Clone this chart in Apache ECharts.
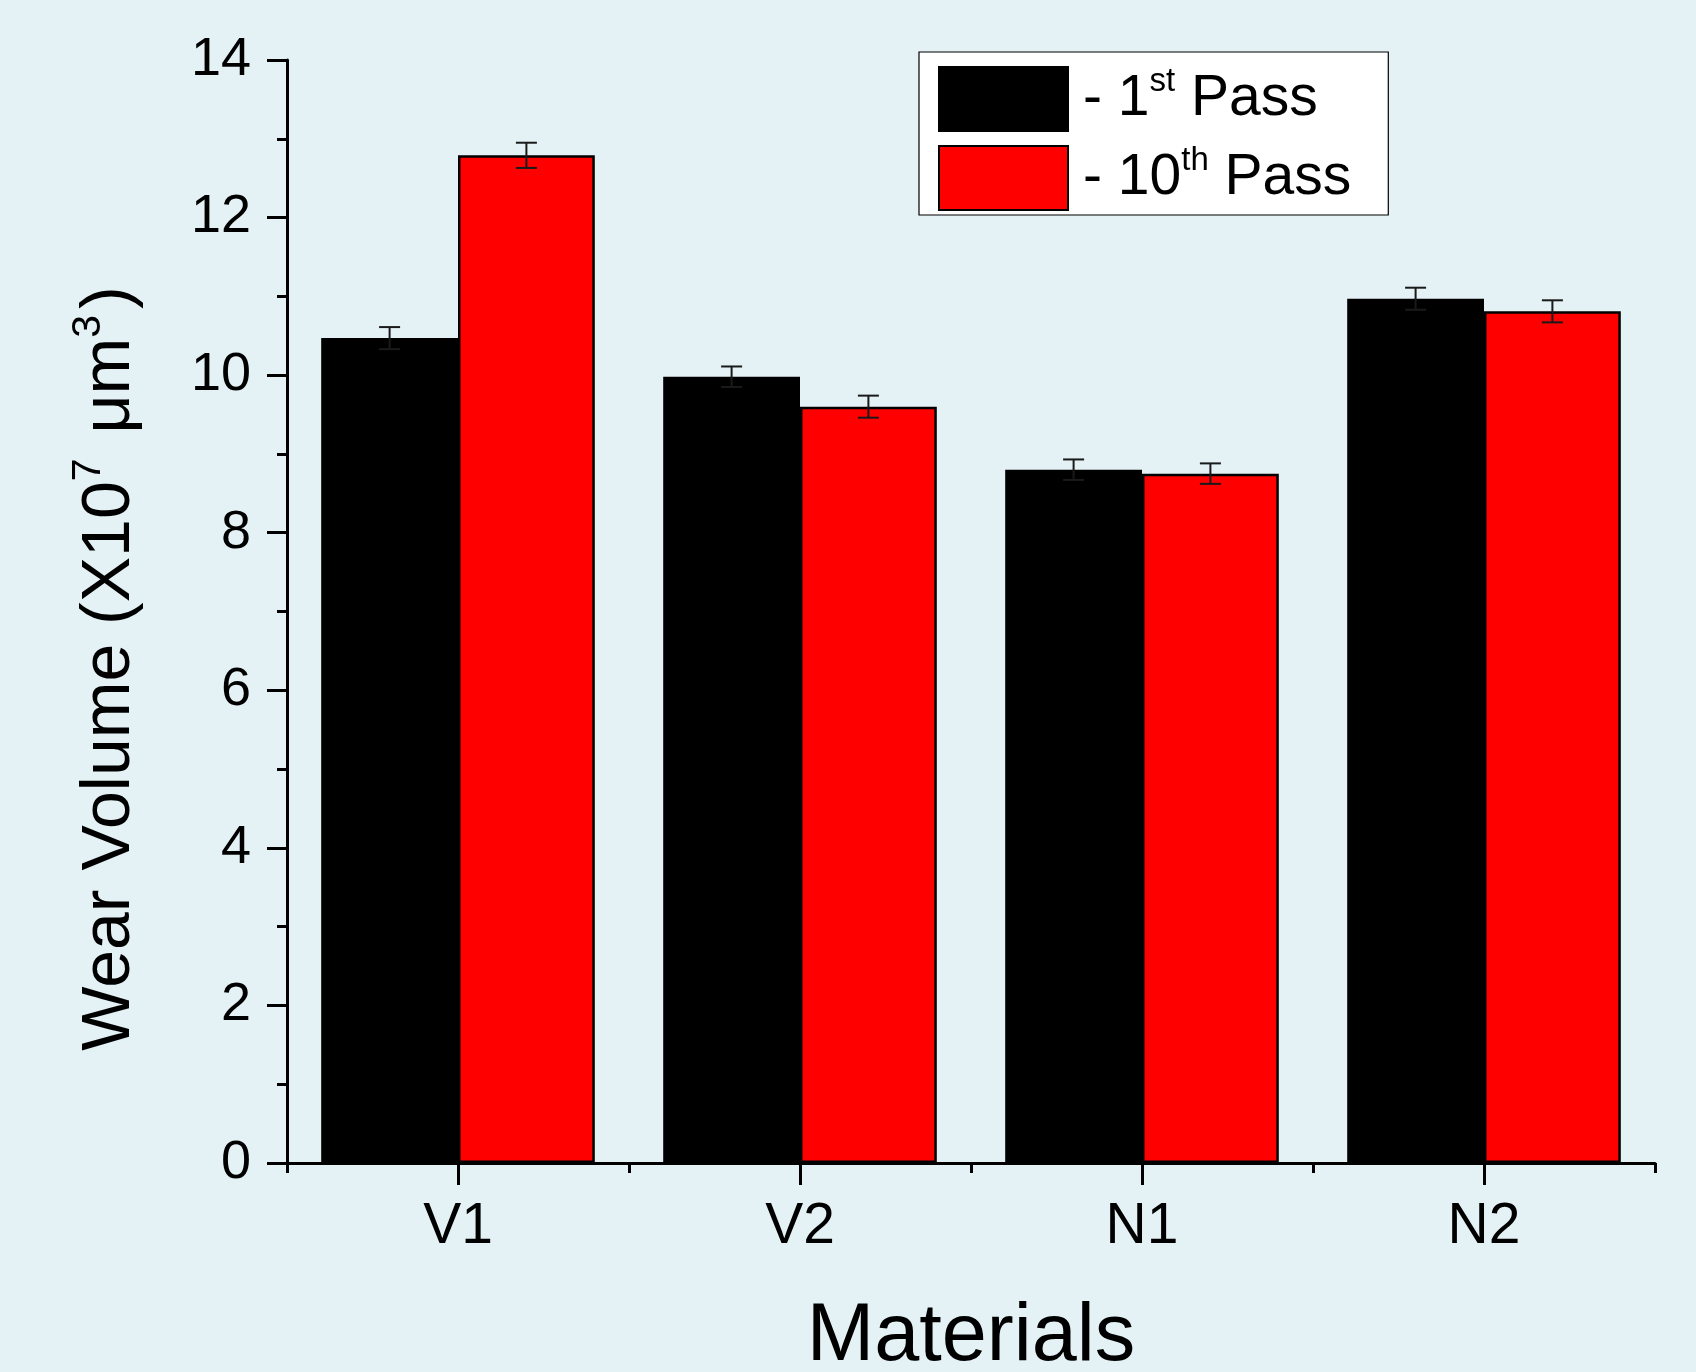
<!DOCTYPE html>
<html>
<head>
<meta charset="utf-8">
<script src="https://cdn.jsdelivr.net/npm/echarts@6/dist/echarts.min.js"></script>
<style>
html,body{margin:0;padding:0;background:#e4f2f6;}
#chart{width:1696px;height:1372px;}
</style>
</head>
<body>
<div id="chart"></div>
<script>
const categories = ['V1', 'V2', 'N1', 'N2'];
const pass1Values = [10.47, 9.98, 8.80, 10.97];
const pass1Errors = [0.14, 0.13, 0.13, 0.14];
const pass10Values = [12.79, 9.60, 8.75, 10.81];
const pass10Errors = [0.16, 0.14, 0.13, 0.14];
const seriesNames = ['1st Pass', '10th Pass'];
const yTicks = { min: 0, max: 14, interval: 2 };

const FONT = '"Liberation Sans", Arial, sans-serif';

function errData(values, errors) {
  return values.map((v, i) => [i, v - errors[i], v + errors[i]]);
}

function errSeries(values, errors, side) {
  return {
    type: 'custom',
    name: 'err' + side,
    z: 10,
    silent: true,
    encode: { x: 0, y: [1, 2] },
    data: errData(values, errors),
    renderItem: function (params, api) {
      const ci = api.value(0);
      const lo = api.coord([ci, api.value(1)]);
      const hi = api.coord([ci, api.value(2)]);
      const band = api.size([1, 0])[0];
      const x = lo[0] + side * band * 0.8 / 4;
      const cap = 10.5;
      const style = { stroke: '#1a1a1a', lineWidth: 2 };
      return {
        type: 'group',
        children: [
          { type: 'line', shape: { x1: x, y1: hi[1], x2: x, y2: lo[1] }, style: style },
          { type: 'line', shape: { x1: x - cap, y1: hi[1], x2: x + cap, y2: hi[1] }, style: style },
          { type: 'line', shape: { x1: x - cap, y1: lo[1], x2: x + cap, y2: lo[1] }, style: style }
        ]
      };
    }
  };
}

const chart = echarts.init(document.getElementById('chart'));
chart.setOption({
  backgroundColor: '#e4f2f6',
  animation: false,
  textStyle: { fontFamily: FONT },
  grid: { left: 287, right: 41, top: 60, bottom: 209, containLabel: false, outerBoundsMode: 'none' },
  legend: {
    data: seriesNames,
    orient: 'vertical',
    left: 919,
    top: 52,
    padding: [13, 37, 3, 19],
    itemGap: 11,
    itemWidth: 129,
    itemHeight: 64,
    icon: 'rect',
    backgroundColor: '#ffffff',
    borderColor: '#000000',
    borderWidth: 1.2,
    formatter: function (name) {
      if (name === '1st Pass') return '- 1{sup|st} Pass';
      return '- 10{sup|th} Pass';
    },
    textStyle: {
      fontFamily: FONT,
      fontSize: 57,
      lineHeight: 68,
      color: '#000',
      padding: [0, 0, 0, 10],
      rich: {
        sup: { fontFamily: FONT, fontSize: 33, color: '#000', verticalAlign: 'top', lineHeight: 20 }
      }
    }
  },
  xAxis: [
    {
      type: 'category',
      data: categories,
      position: 'bottom',
      boundaryGap: true,
      name: 'Materials',
      nameLocation: 'middle',
      nameGap: 134,
      nameTextStyle: { fontFamily: FONT, fontSize: 81, color: '#000' },
      axisLine: { show: true, lineStyle: { color: '#000', width: 3 } },
      axisTick: { show: true, alignWithLabel: true, inside: false, length: 22, lineStyle: { color: '#000', width: 3 } },
      axisLabel: { fontFamily: FONT, fontSize: 57, color: '#000', margin: 36 },
      splitLine: { show: false }
    },
    {
      type: 'category',
      data: categories,
      position: 'bottom',
      boundaryGap: true,
      axisLine: { show: false },
      axisTick: { show: true, alignWithLabel: false, inside: false, length: 10, lineStyle: { color: '#000', width: 3 } },
      axisLabel: { show: false },
      splitLine: { show: false }
    }
  ],
  yAxis: {
    type: 'value',
    min: yTicks.min,
    max: yTicks.max,
    interval: yTicks.interval,
    name: 'Wear Volume (X10{sup|7} μm{sup|3})',
    nameLocation: 'middle',
    nameRotate: 90,
    nameGap: 134,
    nameTextStyle: {
      fontFamily: FONT,
      fontSize: 68,
      lineHeight: 85,
      color: '#000',
      padding: [0, 114, 0, 0],
      rich: {
        sup: { fontFamily: FONT, fontSize: 41, color: '#000', verticalAlign: 'top', lineHeight: 27, padding: [0, 6, 0, 0] }
      }
    },
    axisLine: { show: true, lineStyle: { color: '#000', width: 3 } },
    axisTick: { show: true, inside: false, length: 20, lineStyle: { color: '#000', width: 3 } },
    minorTick: { show: true, splitNumber: 2, length: 10, lineStyle: { color: '#000', width: 3 } },
    axisLabel: { fontFamily: FONT, fontSize: 54, color: '#000', margin: 36 },
    splitLine: { show: false },
    minorSplitLine: { show: false }
  },
  series: [
    {
      type: 'bar',
      name: seriesNames[0],
      data: pass1Values,
      barGap: '0%',
      barCategoryGap: '20%',
      itemStyle: { color: '#000000', borderColor: '#000000', borderWidth: 2 }
    },
    {
      type: 'bar',
      name: seriesNames[1],
      data: pass10Values,
      barGap: '0%',
      barCategoryGap: '20%',
      itemStyle: { color: '#ff0000', borderColor: '#000000', borderWidth: 2.5 }
    },
    errSeries(pass1Values, pass1Errors, -1),
    errSeries(pass10Values, pass10Errors, 1)
  ]
});
</script>
</body>
</html>
